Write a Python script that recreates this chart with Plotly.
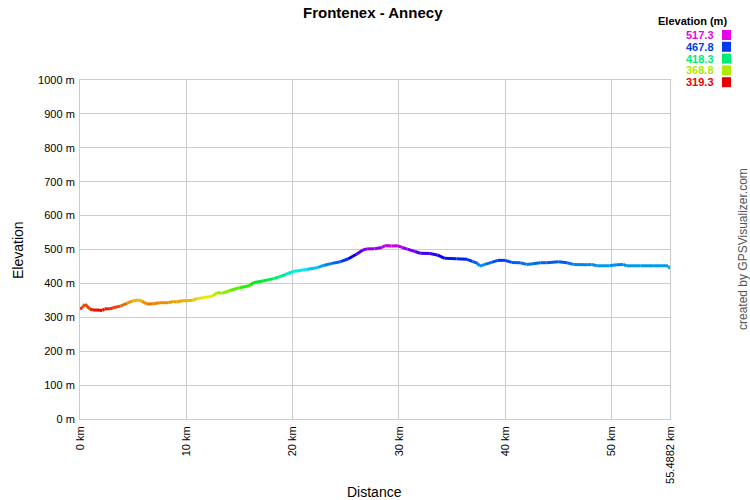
import colorsys
import plotly.graph_objects as go

title = "Frontenex - Annecy"
dist_km = [0, 0.2, 0.47, 0.94, 1.2, 1.6, 2.1, 2.3, 2.8, 3.1, 3.8, 4.4, 4.9, 5.5, 5.8, 6.3, 6.9,
           7.5, 8.3, 8.8, 9.1, 9.6, 10.0, 10.6, 11.0, 11.6, 12.5, 12.9, 13.4, 14.1, 15.0, 16.0,
           16.3, 17.2, 18.2, 18.8, 19.4, 20.0, 21.3, 22.4, 22.9, 23.7, 24.5, 25.2, 26.0, 26.6,
           27.0, 27.7, 28.4, 28.7, 29.3, 29.9, 30.3, 30.8, 31.5, 32.0, 32.9, 33.6, 34.3, 35.4,
           36.4, 36.9, 37.4, 37.6, 38.1, 38.7, 39.3, 40.0, 40.6, 41.4, 42.0, 42.6, 43.3, 43.9,
           45.0, 45.8, 46.4, 47.7, 48.1, 48.6, 49.8, 50.5, 51.1, 51.4, 52.7, 53.9, 55.3, 55.4882]
elev_m = [325, 328, 339, 324, 321.5, 321.5, 320, 325, 325, 328, 333, 341, 348, 351, 348, 339, 340,
          343, 343, 347, 345, 349, 349, 350, 355, 358, 363, 373, 371, 379, 387, 394,
          402, 407, 414, 420, 427, 435, 441, 447, 453, 459, 464, 472, 486, 498.5,
          502, 502, 506, 512, 510, 511, 506, 501, 494, 489, 488, 484, 474, 473,
          471, 465, 459, 451, 456, 462, 468, 468, 462, 461, 456, 458, 461, 461,
          464, 461, 456, 455, 456, 452, 452, 455, 456, 452, 452, 452, 452, 443]
legend_vals = [517.3, 467.8, 418.3, 368.8, 319.3]
x_tickvals = [0, 10, 20, 30, 40, 50, 55.4882]
x_ticktext = ["0 km", "10 km", "20 km", "30 km", "40 km", "50 km", "55.4882 km"]
y_tickvals = [0, 100, 200, 300, 400, 500, 600, 700, 800, 900, 1000]
y_ticktext = [f"{v} m" for v in y_tickvals]

EMIN, EMAX = 319.3, 517.3


def elev_color(e, v=0.93):
    h = max(0.0, min(1.0, (e - EMIN) / (EMAX - EMIN))) * 300.0 / 360.0
    r, g, b = colorsys.hsv_to_rgb(h, 1.0, v)
    return f"rgb({int(r*255)},{int(g*255)},{int(b*255)})"


W, H = 750, 500
PL, PT, PW, PH = 80, 80, 590, 339   # plot area in pixels


def px(xp):
    return (xp - PL) / PW


def py(yp):
    return (PT + PH - yp) / PH


FONT = "Liberation Sans, Arial, sans-serif"
fig = go.Figure()
for i in range(len(dist_km) - 1):
    col = elev_color((elev_m[i] + elev_m[i + 1]) / 2)
    fig.add_trace(go.Scatter(x=[dist_km[i], dist_km[i + 1]], y=[elev_m[i], elev_m[i + 1]],
                             mode="lines", line=dict(color=col, width=3),
                             showlegend=False, hoverinfo="skip"))

fig.update_layout(
    width=W, height=H,
    margin=dict(l=PL, r=W - PL - PW, t=PT, b=H - PT - PH, autoexpand=False),
    paper_bgcolor="white", plot_bgcolor="white",
    font=dict(family=FONT, size=11, color="black"),
    showlegend=False,
)
fig.update_xaxes(range=[0, 55.4882], tickvals=x_tickvals, ticktext=x_ticktext, tickangle=-90,
                 showgrid=True, gridcolor="#cccccc", gridwidth=1, zeroline=False,
                 showline=True, linecolor="#cccccc", mirror=True, ticks="outside", ticklen=2,
                 tickcolor="white", tickfont=dict(size=11, family=FONT))
fig.update_yaxes(range=[0, 1000], tickvals=y_tickvals, ticktext=y_ticktext,
                 showgrid=True, gridcolor="#cccccc", gridwidth=1, zeroline=False,
                 showline=True, linecolor="#cccccc", mirror=True, ticks="outside", ticklen=2,
                 tickcolor="white", tickfont=dict(size=11, family=FONT))


def ann(text, x, y, size=11, color="black", xanchor="center", angle=0):
    return dict(text=text, x=px(x), y=py(y), xref="paper", yref="paper", xanchor=xanchor,
                yanchor="middle", textangle=angle, showarrow=False,
                font=dict(size=size, family=FONT, color=color))


annots = [
    ann(f"<b>{title}</b>", 373, 12, size=15),
    ann("Elevation", 18, 250, size=14, angle=-90),
    ann("Distance", 374, 492, size=14),
    ann("created by GPSVisualizer.com", 743, 249, size=12, color="#555555", angle=-90),
    ann("<b>Elevation (m)</b>", 729, 21, xanchor="right"),
]
shapes = []
for k, v in enumerate(legend_vals):
    yc = 35 + k * 11.8
    col = elev_color(v, v=0.92)
    annots.append(ann(f"<b>{v}</b>", 716, yc, color=col, xanchor="right"))
    shapes.append(dict(type="rect", xref="paper", yref="paper",
                       x0=px(722), x1=px(731), y0=py(yc + 5), y1=py(yc - 5),
                       fillcolor=col, line=dict(width=0)))

fig.update_layout(annotations=annots, shapes=shapes)
fig.write_html("out.html", config={"displayModeBar": False, "staticPlot": True},
               post_script="document.body.style.margin='0';document.body.style.overflow='hidden';")
